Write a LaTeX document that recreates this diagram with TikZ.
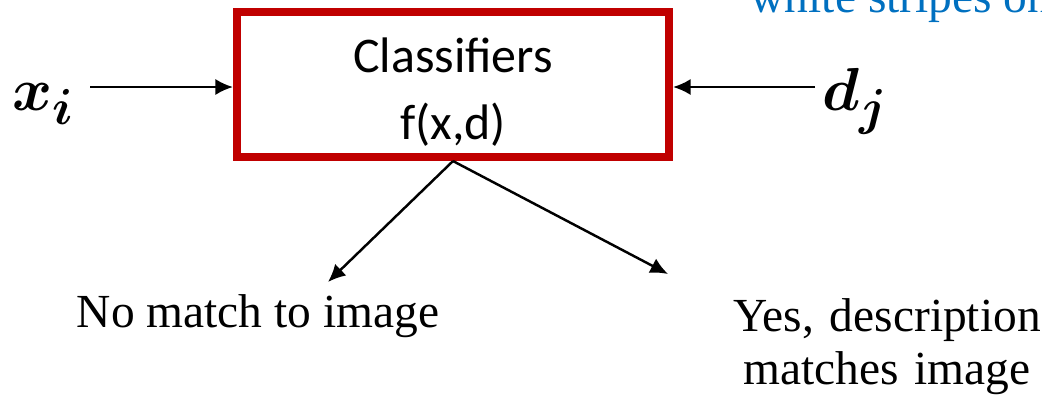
\documentclass[tikz,border=0pt]{standalone}
\usepackage{fontspec}
\usepackage{amsmath}
\usepackage{bm}
\setmainfont{Liberation Serif}
\newfontfamily\calibrifont{Carlito}
\usetikzlibrary{arrows.meta}
\definecolor{boxred}{HTML}{C00000}
\definecolor{noteblue}{HTML}{0070C0}
\tikzset{
  classbox/.style={draw=boxred, line width=2.3pt, minimum width=4.32cm, minimum height=1.45cm},
  flow/.style={line width=0.7pt, -{Latex[length=5pt,width=4.6pt]}},
  plaintext/.style={font=\fontsize{13.5}{14.2}\selectfont, inner sep=0pt},
  vecnode/.style={font=\fontsize{19}{23}\selectfont, inner sep=0pt}
}
\begin{document}
\begin{tikzpicture}
        \useasboundingbox (0,0) rectangle (10.42,-3.98);
        \node [classbox] (clf) at (4.53, -0.845) {};
        \node [font=\calibrifont\fontsize{14.2}{19}\selectfont, align=center, inner sep=0pt] (clftext) at (4.53, -0.92) {Classifiers\\f(x,d)};
        \node [vecnode, anchor=base west] (xin) at (0.12, -1.10) {$\bm{x}_{\bm{i}}$};
        \node [vecnode, anchor=base west] (din) at (8.22, -1.10) {$\bm{d}_{\bm{j}}$};
        \coordinate (xstart) at (0.90, -0.87);
        \coordinate (dstart) at (8.15, -0.87);
        \draw [flow] (xstart) -- (xstart -| clf.west);
        \draw [flow] (dstart) -- (dstart -| clf.east);
        \coordinate (noend) at (3.28, -2.82);
        \coordinate (yesend) at (6.68, -2.74);
        \draw [flow] (clf.south) -- (noend);
        \draw [flow] (clf.south) -- (yesend);
        \node [plaintext, anchor=base] (nomatch) at (2.58, -3.27) {No match to image};
        \node [plaintext, anchor=base, align=center, text width=3.2cm] (yesmatch) at (8.87, -3.31) {Yes, description\\[1pt]matches image};
        \node [plaintext, anchor=base west, text=noteblue] (note) at (7.50, -0.12) {white stripes on};
\end{tikzpicture}
\end{document}
